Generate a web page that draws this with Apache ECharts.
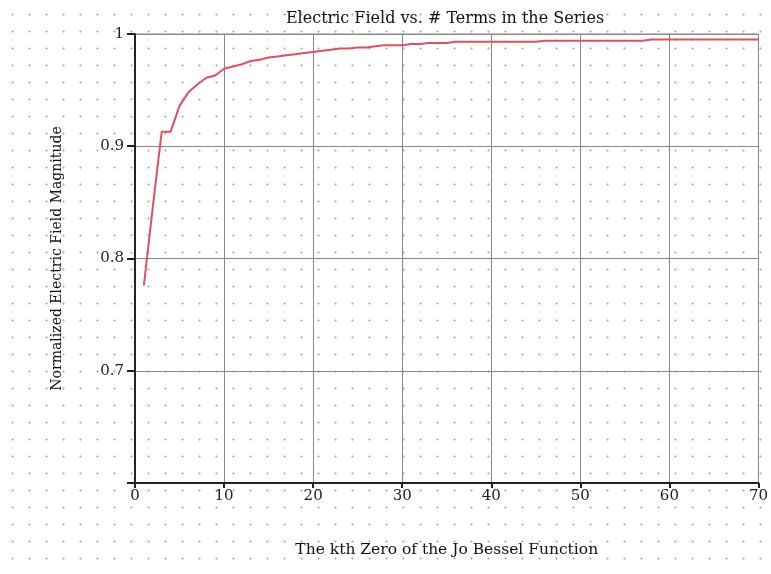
<!DOCTYPE html>
<html><head><meta charset="utf-8">
<script src="https://cdn.jsdelivr.net/npm/echarts@6/dist/echarts.min.js"></script>
<style>
html,body{margin:0;padding:0;background:#fff;}
#c{width:771px;height:574px;
 background-image:radial-gradient(circle, #b8b8b8 0.9px, transparent 1.3px);
 background-size:17px 17px;background-position:4px 6px;}
</style></head>
<body><div id="c"></div>
<script>
const titleText = 'Electric Field vs. # Terms in the Series';
const xTitle = 'The kth Zero of the Jo Bessel Function';
const yTitle = 'Normalized Electric Field Magnitude';
const kValues = [1,2,3,4,5,6,7,8,9,10,11,12,13,14,15,16,17,18,19,20,21,22,23,24,25,26,27,28,29,30,31,32,33,34,35,36,37,38,39,40,41,42,43,44,45,46,47,48,49,50,51,52,53,54,55,56,57,58,59,60,61,62,63,64,65,66,67,68,69,70];
const fieldValues = [0.776,0.846,0.913,0.913,0.936,0.948,0.955,0.961,0.963,0.969,0.971,0.973,0.976,0.977,0.979,0.980,0.981,0.982,0.983,0.984,0.985,0.986,0.987,0.987,0.988,0.988,0.989,0.990,0.990,0.990,0.991,0.991,0.992,0.992,0.992,0.993,0.993,0.993,0.993,0.993,0.993,0.993,0.993,0.993,0.993,0.994,0.994,0.994,0.994,0.994,0.994,0.994,0.994,0.994,0.994,0.994,0.994,0.995,0.995,0.995,0.995,0.995,0.995,0.995,0.995,0.995,0.995,0.995,0.995,0.995];
const yTickLabels = {'1':'1','0.9':'0.9','0.8':'0.8','0.7':'0.7'};

const chart = echarts.init(document.getElementById('c'), null, {renderer:'canvas'});
const font = '"DejaVu Serif","Liberation Serif",serif';
chart.setOption({
  backgroundColor:'transparent',
  animation:false,
  title:{text:titleText,left:440,top:6,textAlign:'center',
    textStyle:{fontFamily:font,fontSize:16,fontWeight:'normal',color:'#111'}},
  grid:{left:135,right:11,top:34,bottom:91,show:true,borderColor:'#888',borderWidth:1},
  xAxis:{type:'value',min:0,max:70,interval:10,
    name:xTitle,nameLocation:'middle',nameGap:59,
    nameTextStyle:{fontFamily:font,fontSize:15.5,color:'#111'},
    axisLine:{lineStyle:{color:'#222',width:2}},
    axisTick:{show:true,length:5,lineStyle:{color:'#222',width:2}},
    axisLabel:{fontFamily:font,fontSize:15,color:'#222',margin:6},
    splitLine:{show:true,lineStyle:{color:'#888',width:1}}},
  yAxis:{type:'value',min:0.6,max:1,interval:0.1,
    name:yTitle,nameLocation:'middle',nameGap:71,nameRotate:90,
    nameTextStyle:{fontFamily:font,fontSize:14,color:'#111'},
    axisLine:{show:true,lineStyle:{color:'#222',width:2}},
    axisTick:{show:true,length:8,lineStyle:{color:'#222',width:2}},
    axisLabel:{fontFamily:font,fontSize:15,color:'#222',margin:11,
      formatter:v=>{const k=String(Math.round(v*10)/10);return yTickLabels[k]||'';}},
    splitLine:{show:true,lineStyle:{color:'#888',width:1}}},
  series:[{type:'line',data:kValues.map((k,i)=>[k,fieldValues[i]]),
    showSymbol:false,lineStyle:{color:'#e0505e',width:2}}]
});
</script></body></html>
